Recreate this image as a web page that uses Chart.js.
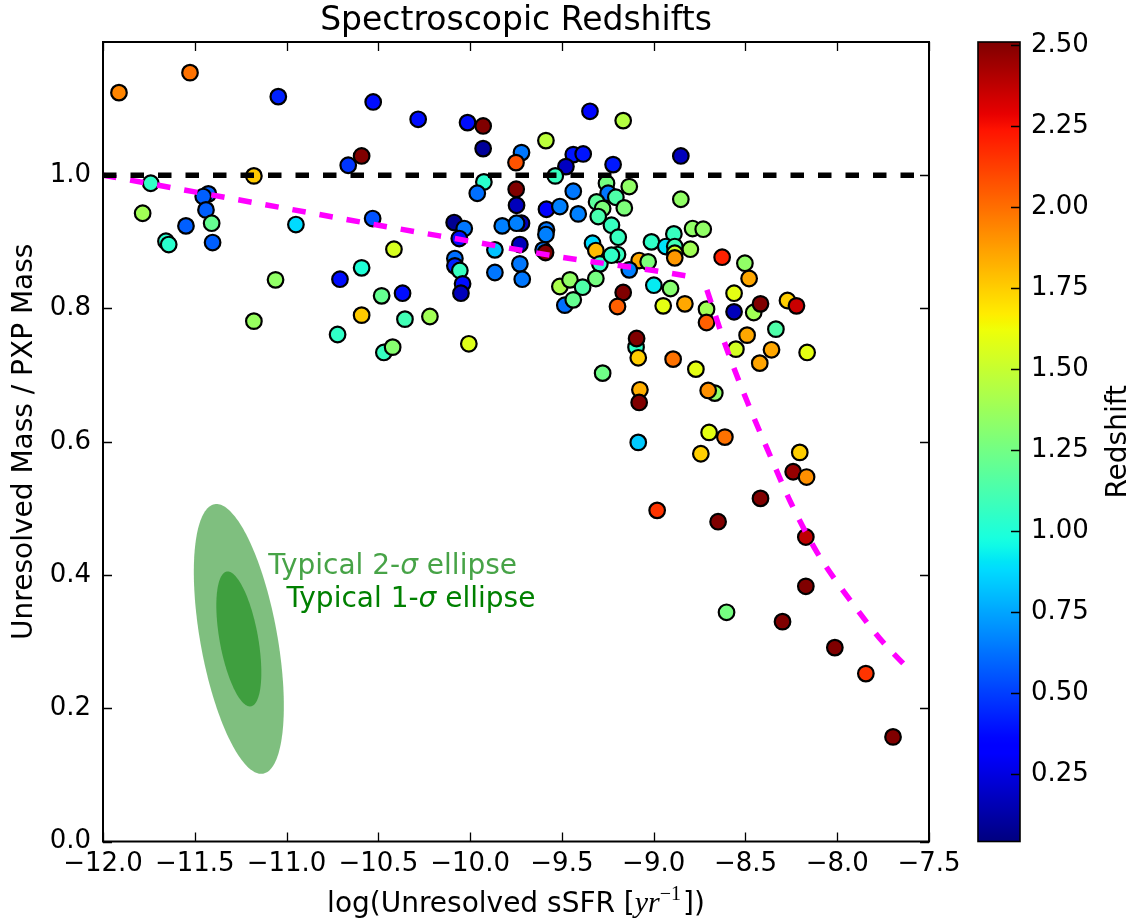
<!DOCTYPE html>
<html>
<head>
<meta charset="utf-8">
<script src="https://cdn.jsdelivr.net/npm/chart.js@4.4.1/dist/chart.umd.min.js"></script>
<style>
  html, body { margin: 0; padding: 0; background: #ffffff; }
  canvas { display: block; }
</style>
</head>
<body>
<canvas id="chart" width="1135" height="924"></canvas>
<script>
// ---- galaxy sample: log sSFR, mass ratio, spectroscopic redshift ----
const sSFR = [
  -11.913, -11.526, -11.045, -10.528, -10.591, -10.664, -11.178, -11.740, -11.426, -11.454,
  -11.439, -11.784, -11.548, -11.408, -11.403, -10.949, -10.531, -11.657, -11.642, -10.415,
  -10.591, -10.709, -11.060, -10.482, -10.591, -11.178, -10.722, -10.470, -10.422,
  -10.283, -10.014, -9.929, -9.929, -9.587, -9.347, -9.166, -9.720, -9.750, -9.438,
  -9.384, -9.478, -9.536, -9.221, -9.925, -9.961, -9.749, -9.747, -9.438, -9.584,
  -9.511, -9.411, -9.257, -10.087, -10.032, -10.059, -9.825, -9.720, -9.747, -9.584,
  -9.587, -9.865, -9.729, -9.602, -9.589, -9.333, -9.315, -10.083, -10.083, -10.056,
  -10.041, -10.050, -9.865, -9.729, -9.716, -9.293, -9.511, -9.456, -9.387, -9.315,
  -9.484, -9.438, -10.368, -10.355, -10.219, -10.007, -9.278,
  -9.166, -9.197, -8.852, -9.133, -9.248, -9.311, -9.278, -9.206, -9.160, -9.302,
  -8.852, -9.230, -9.193, -9.197, -9.230, -9.012, -8.890, -8.788, -8.730, -8.934,
  -8.885, -8.800, -8.885, -8.885, -9.079, -9.030, -9.133, -8.999, -8.908, -8.948,
  -8.830, -8.627, -8.503, -8.480, -8.562, -8.562, -8.712, -8.712, -8.455, -8.418,
  -8.271, -8.222, -8.491, -8.334, -8.552, -8.358, -8.422, -8.164, -8.770, -8.667,
  -8.703, -8.698, -8.612, -8.743, -8.204, -8.240, -8.167, -8.418, -8.649,
  -9.096, -9.093, -9.084, -8.894, -9.075, -9.079, -9.084,
  -8.981, -8.171, -8.171, -8.603, -8.298, -8.013, -7.844, -7.696
];
const massRatio = [
  1.124, 1.154, 1.118, 1.110, 1.029, 1.015, 0.999, 0.988, 0.972, 0.968,
  0.948, 0.943, 0.924, 0.928, 0.899, 0.926, 0.935, 0.901, 0.896, 0.889,
  0.861, 0.844, 0.843, 0.819, 0.790, 0.781, 0.761, 0.734, 0.742,
  1.084, 1.079, 1.074, 1.040, 1.052, 1.096, 1.082, 1.034, 1.019, 1.031,
  1.032, 1.013, 0.999, 1.016, 0.990, 0.973, 0.979, 0.955, 0.976, 0.949,
  0.953, 0.942, 0.988, 0.929, 0.920, 0.905, 0.924, 0.928, 0.928, 0.918,
  0.911, 0.888, 0.896, 0.888, 0.884, 0.898, 0.887, 0.875, 0.864, 0.857,
  0.837, 0.823, 0.854, 0.867, 0.844, 0.867, 0.833, 0.843, 0.832, 0.845,
  0.805, 0.813, 0.823, 0.784, 0.788, 0.747, 0.703,
  0.824, 0.803, 1.029, 0.983, 0.973, 0.960, 0.950, 0.967, 0.951, 0.938,
  0.964, 0.925, 0.907, 0.881, 0.880, 0.900, 0.912, 0.920, 0.919, 0.893,
  0.893, 0.889, 0.883, 0.876, 0.872, 0.870, 0.858, 0.835, 0.830, 0.804,
  0.807, 0.877, 0.868, 0.845, 0.823, 0.795, 0.799, 0.779, 0.794, 0.807,
  0.812, 0.804, 0.760, 0.769, 0.739, 0.738, 0.718, 0.734, 0.709, 0.673,
  0.677, 0.614, 0.607, 0.582, 0.584, 0.555, 0.547, 0.515, 0.480,
  0.742, 0.755, 0.726, 0.724, 0.678, 0.659, 0.599,
  0.497, 0.457, 0.383, 0.344, 0.330, 0.291, 0.252, 0.157
];
const redshift = [
  1.94, 1.99, 0.43, 0.38, 2.51, 0.48, 1.76, 1.05, 0.58, 0.58,
  0.58, 1.39, 0.58, 1.21, 0.58, 0.88, 0.55, 1.03, 1.03, 1.55,
  1.00, 0.38, 1.34, 1.21, 1.76, 1.36, 1.05, 1.07, 1.31,
  0.38, 0.38, 2.51, 0.10, 1.47, 0.36, 1.45, 0.64, 2.07, 0.40,
  0.40, 0.18, 1.07, 0.41, 1.03, 0.62, 2.51, 0.17, 0.64, 0.32,
  0.66, 0.66, 1.26, 0.08, 0.64, 0.38, 0.66, 0.17, 0.66, 0.64,
  0.66, 0.82, 0.17, 0.64, 2.51, 0.88, 1.80, 0.62, 0.43, 1.07,
  0.38, 0.17, 0.64, 0.64, 0.64, 1.05, 1.42, 1.34, 1.14, 1.26,
  0.62, 1.21, 0.38, 1.10, 1.39, 1.57, 1.24,
  2.51, 2.04, 0.17, 1.34, 0.64, 1.18, 1.28, 1.14, 1.28, 1.12,
  1.34, 1.07, 1.07, 1.07, 1.05, 1.05, 1.07, 1.34, 1.34, 0.90,
  1.10, 1.39, 1.52, 1.89, 1.85, 1.28, 0.66, 0.92, 1.31, 1.59,
  1.85, 2.20, 1.34, 1.85, 1.59, 0.17, 1.39, 2.04, 1.39, 2.51,
  1.75, 2.35, 1.85, 1.14, 1.54, 1.85, 1.86, 1.59, 1.59, 1.34,
  1.91, 1.59, 1.99, 1.75, 1.75, 2.46, 1.91, 2.51, 2.51,
  1.05, 2.51, 1.75, 1.99, 1.83, 2.51, 0.84,
  2.15, 2.38, 2.51, 1.26, 2.51, 2.51, 2.15, 2.51
];

// ---- reference lines ----
const unityX = [-12.0, -7.5];
const unityY = [1.0, 1.0];
const trendStarX = [-12.0, -11.5, -11.0, -10.5, -10.0, -9.5, -9.0, -8.80];
const trendStarY = [1.000, 0.975, 0.950, 0.925, 0.901, 0.877, 0.857, 0.848];
const trendBurstX = [-8.71, -8.60, -8.49, -8.37, -8.25, -8.11, -7.94, -7.75, -7.615];
const trendBurstY = [0.828, 0.738, 0.660, 0.582, 0.507, 0.434, 0.366, 0.299, 0.260];

// ---- typical error ellipse (1-sigma axes, data units) ----
const ellipseCenter = [-11.26, 0.304];
const ellipseMajor = [0.0662, -0.1011];
const ellipseMinor = [0.1032, 0.0051];
const ellipseLevels = [2, 1];
const ellipseLabels = ['Typical 2-', 'Typical 1-'];
const ellipseLabelX = [-11.10, -11.00];
const ellipseLabelY = [0.402, 0.352];

// ---- axes ----
const xTicks = [-12.0, -11.5, -11.0, -10.5, -10.0, -9.5, -9.0, -8.5, -8.0, -7.5];
const yTicks = [0.0, 0.2, 0.4, 0.6, 0.8, 1.0];
const zTicks = [0.25, 0.50, 0.75, 1.00, 1.25, 1.50, 1.75, 2.00, 2.25, 2.50];
const Z_MIN = 0.043, Z_MAX = 2.509;

// matplotlib "jet" colormap
const JET = {
  r: [[0, 0], [0.35, 0], [0.66, 1], [0.89, 1], [1, 0.5]],
  g: [[0, 0], [0.125, 0], [0.375, 1], [0.64, 1], [0.91, 0], [1, 0]],
  b: [[0, 0.5], [0.11, 1], [0.34, 1], [0.65, 0], [1, 0]]
};
function channel(pts, t) {
  for (let i = 1; i < pts.length; i++) {
    if (t <= pts[i][0]) {
      const [t0, v0] = pts[i - 1], [t1, v1] = pts[i];
      return v0 + (v1 - v0) * (t - t0) / (t1 - t0);
    }
  }
  return pts[pts.length - 1][1];
}
function jetAt(t) {
  t = Math.max(0, Math.min(1, t));
  const c = k => Math.round(255 * channel(JET[k], t));
  return `rgb(${c('r')},${c('g')},${c('b')})`;
}
function jetColor(z) { return jetAt((z - Z_MIN) / (Z_MAX - Z_MIN)); }

const FONT = 'DejaVu Sans';
const toXY = (xs, ys) => xs.map((x, i) => ({ x, y: ys[i] }));
const fmtX = v => (v < 0 ? '\u2212' : '') + Math.abs(v).toFixed(1);

function noPad(s) { s.paddingTop = 0; s.paddingBottom = 0; s.paddingLeft = 0; s.paddingRight = 0; }

const decor = {
  id: 'decor',
  beforeDatasetsDraw(chart) {
    const { ctx, scales: { x, y } } = chart;
    ctx.save();
    ellipseLevels.forEach(k => {
      const cx = x.getPixelForValue(ellipseCenter[0]);
      const cy = y.getPixelForValue(ellipseCenter[1]);
      const ax = x.getPixelForValue(ellipseCenter[0] + k * ellipseMajor[0]) - cx;
      const ay = y.getPixelForValue(ellipseCenter[1] + k * ellipseMajor[1]) - cy;
      const bx = x.getPixelForValue(ellipseCenter[0] + k * ellipseMinor[0]) - cx;
      const by = y.getPixelForValue(ellipseCenter[1] + k * ellipseMinor[1]) - cy;
      ctx.beginPath();
      for (let i = 0; i <= 180; i++) {
        const t = i / 180 * 2 * Math.PI;
        const px = cx + ax * Math.cos(t) + bx * Math.sin(t);
        const py = cy + ay * Math.cos(t) + by * Math.sin(t);
        if (i === 0) ctx.moveTo(px, py); else ctx.lineTo(px, py);
      }
      ctx.closePath();
      ctx.fillStyle = 'rgba(0,128,0,0.5)';
      ctx.fill();
    });
    ctx.restore();
  },
  afterDraw(chart) {
    const { ctx, chartArea: a, scales: { x, y, z } } = chart;
    ctx.save();

    // ellipse labels
    const labelColors = ['rgba(0,128,0,0.72)', '#008000'];
    ellipseLabels.forEach((txt, i) => {
      let px = x.getPixelForValue(ellipseLabelX[i]);
      const py = y.getPixelForValue(ellipseLabelY[i]);
      ctx.fillStyle = labelColors[i];
      ctx.textBaseline = 'alphabetic';
      ctx.textAlign = 'left';
      ctx.font = `28px ${FONT}`;
      ctx.fillText(txt, px, py);
      px += ctx.measureText(txt).width;
      ctx.font = `oblique 28px ${FONT}`;
      ctx.fillText('\u03c3', px, py);
      px += ctx.measureText('\u03c3').width;
      ctx.font = `28px ${FONT}`;
      ctx.fillText(' ellipse', px, py);
    });

    // frame
    ctx.strokeStyle = '#000';
    ctx.lineWidth = 2;
    ctx.strokeRect(a.left, a.top, a.right - a.left, a.bottom - a.top);

    // inward tick marks
    const TL = 9;
    ctx.lineWidth = 1.3;
    ctx.beginPath();
    xTicks.forEach(v => {
      const px = Math.round(x.getPixelForValue(v)) + 0.5;
      ctx.moveTo(px, a.bottom); ctx.lineTo(px, a.bottom - TL);
      ctx.moveTo(px, a.top); ctx.lineTo(px, a.top + TL);
    });
    yTicks.forEach(v => {
      const py = Math.round(y.getPixelForValue(v)) + 0.5;
      ctx.moveTo(a.left, py); ctx.lineTo(a.left + TL, py);
      ctx.moveTo(a.right, py); ctx.lineTo(a.right - TL, py);
    });
    ctx.stroke();

    // colour bar
    const barL = z.left + 49, barW = 42;
    const top = z.getPixelForValue(Z_MAX), bot = z.getPixelForValue(Z_MIN);
    const grad = ctx.createLinearGradient(0, bot, 0, top);
    for (let i = 0; i <= 100; i++) grad.addColorStop(i / 100, jetAt(i / 100));
    ctx.fillStyle = grad;
    ctx.fillRect(barL, top, barW, bot - top);
    ctx.lineWidth = 1.6;
    ctx.strokeRect(barL, top, barW, bot - top);
    ctx.lineWidth = 1.3;
    ctx.beginPath();
    zTicks.forEach(v => {
      const py = Math.round(z.getPixelForValue(v)) + 0.5;
      ctx.moveTo(barL + barW, py); ctx.lineTo(barL + barW - TL, py);
    });
    ctx.stroke();

    // titles
    ctx.fillStyle = '#000';
    ctx.textAlign = 'center';
    ctx.textBaseline = 'alphabetic';
    ctx.font = `33px ${FONT}`;
    ctx.fillText('Spectroscopic Redshifts', (a.left + a.right) / 2, 30);

    // y-axis title
    ctx.font = `28px ${FONT}`;
    ctx.save();
    ctx.translate(32, (a.top + a.bottom) / 2);
    ctx.rotate(-Math.PI / 2);
    ctx.fillText('Unresolved Mass / PXP Mass', 0, 0);
    ctx.restore();

    // colour bar title
    ctx.save();
    ctx.translate(1126, (a.top + a.bottom) / 2);
    ctx.rotate(-Math.PI / 2);
    ctx.fillText('Redshift', 0, 0);
    ctx.restore();

    // x-axis title with math part
    const parts = [
      { t: 'log(Unresolved sSFR [', f: `28px ${FONT}`, dy: 0 },
      { t: 'yr', f: 'italic 30px "Liberation Serif"', dy: 0 },
      { t: '\u22121', f: '20px "Liberation Serif"', dy: -12 },
      { t: '])', f: `28px ${FONT}`, dy: 0 }
    ];
    let total = 0;
    parts.forEach(p => { ctx.font = p.f; p.w = ctx.measureText(p.t).width; total += p.w; });
    total += 2;
    let px = (a.left + a.right) / 2 - total / 2;
    ctx.textAlign = 'left';
    parts.forEach((p, i) => {
      ctx.font = p.f;
      ctx.fillText(p.t, px, 912 + p.dy);
      px += p.w + (i === 2 ? 2 : 0);
    });
    ctx.restore();
  }
};

const tickFont = { family: FONT, size: 26 };

new Chart(document.getElementById('chart'), {
  type: 'scatter',
  data: {
    datasets: [
      {
        type: 'line', data: toXY(unityX, unityY), order: 0,
        borderColor: '#000000', borderWidth: 5.5, borderDash: [13.5, 14],
        pointRadius: 0, fill: false
      },
      {
        type: 'line', data: toXY(trendStarX, trendStarY), order: 0,
        borderColor: '#ff00ff', borderWidth: 5.5, borderDash: [13.5, 14],
        pointRadius: 0, fill: false, cubicInterpolationMode: 'monotone'
      },
      {
        type: 'line', data: toXY(trendBurstX, trendBurstY), order: 0,
        borderColor: '#ff00ff', borderWidth: 5.5, borderDash: [13.5, 14],
        pointRadius: 0, fill: false, cubicInterpolationMode: 'monotone'
      },
      {
        type: 'scatter', data: toXY(sSFR, massRatio), order: 1,
        pointRadius: 7.8, pointBorderWidth: 2.2, pointBorderColor: '#000000',
        pointBackgroundColor: redshift.map(jetColor), showLine: false
      }
    ]
  },
  options: {
    responsive: false,
    devicePixelRatio: 1,
    animation: false,
    events: [],
    layout: { padding: { top: 42, left: 0, right: 0, bottom: 0 } },
    plugins: { legend: { display: false }, tooltip: { enabled: false }, title: { display: false } },
    scales: {
      x: {
        type: 'linear', position: 'bottom', min: -12, max: -7.5,
        afterBuildTicks: s => { s.ticks = xTicks.map(v => ({ value: v })); },
        afterFit: s => { s.height = 82.5; noPad(s); },
        grid: { display: false, drawTicks: false },
        border: { display: false },
        ticks: { font: tickFont, color: '#000', padding: 7.5, maxRotation: 0, autoSkip: false, callback: fmtX }
      },
      y: {
        type: 'linear', position: 'left', min: 0, max: 1.2,
        afterBuildTicks: s => { s.ticks = yTicks.map(v => ({ value: v })); },
        afterFit: s => { s.width = 103; noPad(s); },
        grid: { display: false, drawTicks: false },
        border: { display: false },
        ticks: { font: tickFont, color: '#000', padding: 12, autoSkip: false, callback: v => v.toFixed(1) }
      },
      z: {
        type: 'linear', axis: 'y', position: 'right', min: Z_MIN, max: Z_MAX,
        afterBuildTicks: s => { s.ticks = zTicks.map(v => ({ value: v })); },
        afterFit: s => { s.width = 206; noPad(s); },
        grid: { display: false, drawTicks: false },
        border: { display: false },
        ticks: { font: tickFont, color: '#000', padding: 102, autoSkip: false, callback: v => v.toFixed(2) }
      }
    }
  },
  plugins: [decor]
});
</script>
</body>
</html>
